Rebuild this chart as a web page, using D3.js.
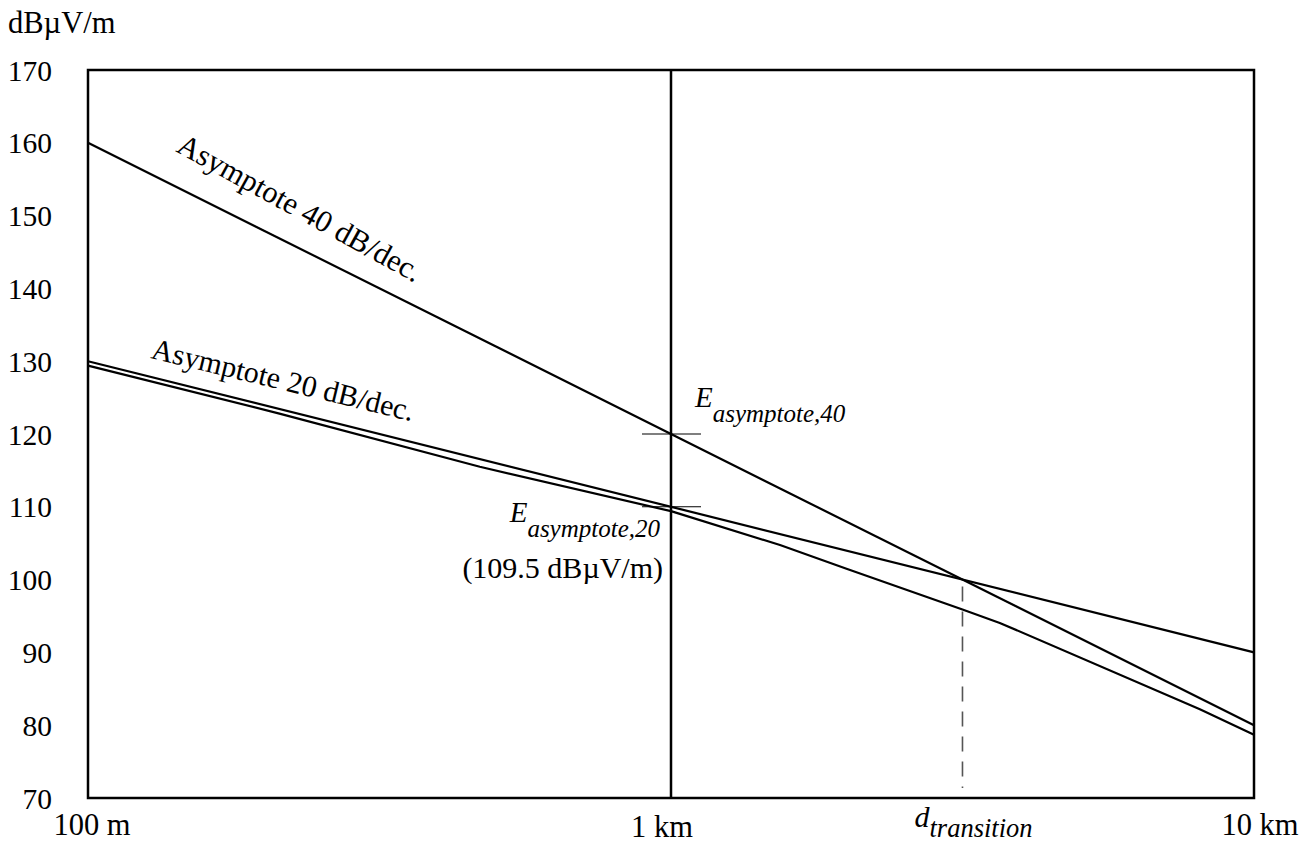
<!DOCTYPE html>
<html>
<head>
<meta charset="utf-8">
<script src="https://cdn.jsdelivr.net/npm/d3@7"></script>
<style>
  body { margin: 0; background: #fff; }
  svg text { font-family: "Liberation Serif", "Times New Roman", Times, Tinos, "DejaVu Serif", serif; fill: #000; }
</style>
</head>
<body>
<div id="chart"></div>
<script>
// axis ticks
const yTicks = [70, 80, 90, 100, 110, 120, 130, 140, 150, 160, 170];
const xTickValues = [100, 1000, 10000];
const xTickLabels = ["100 m", "1 km", "10 km"];

// asymptotes (distance in m, field in dBµV/m)
const asymDist = [100, 10000];
const asym40 = [160, 80];
const asym20 = [130, 90];

// resulting field strength curve
const curveDist = [100, 213, 470, 1000, 1538, 2000, 3162, 3664, 8075, 10000];
const curveValues = [129.4, 122.8, 115.5, 109.4, 104.75, 101.5, 95.9, 94.05, 82.2, 78.7];

// markers at 1 km and transition point
const markerDist = 1000;
const markerValues = [120, 110];
const transitionDist = 3162;
const transitionValue = 100;

const serif = "'Liberation Serif', 'Times New Roman', Times, Tinos, 'DejaVu Serif', serif";

const width = 1301, height = 845;
const margin = { top: 70, right: 47, bottom: 47, left: 88 };

const svg = d3.select("#chart").append("svg")
  .attr("width", width)
  .attr("height", height)
  .attr("font-family", serif);

const x = d3.scaleLog()
  .domain([100, 10000])
  .range([margin.left, width - margin.right]);

const y = d3.scaleLinear()
  .domain([70, 170])
  .range([height - margin.bottom, margin.top]);

// y axis labels
const yAxis = svg.append("g")
  .attr("transform", `translate(${margin.left},0)`)
  .call(d3.axisLeft(y).tickValues(yTicks).tickSize(0).tickPadding(36).tickFormat(d3.format("d")));
yAxis.attr("font-family", serif).attr("font-size", null);
yAxis.select(".domain").remove();
yAxis.selectAll("text")
  .style("font-size", "29.5px")
  .attr("dy", "0.34em");

svg.append("text")
  .attr("x", 8)
  .attr("y", 33)
  .style("font-size", "30.5px")
  .text("dBµV/m");

// x labels
const xLabelPos = [
  { dx: 4, y: 835 },
  { dx: -9, y: 837 },
  { dx: 6, y: 835 }
];
svg.selectAll(".xlab")
  .data(xTickValues)
  .enter()
  .append("text")
  .attr("class", "xlab")
  .attr("x", (d, i) => x(d) + xLabelPos[i].dx)
  .attr("y", (d, i) => xLabelPos[i].y)
  .attr("text-anchor", "middle")
  .style("font-size", "30.5px")
  .text((d, i) => xTickLabels[i]);

// d_transition label
const dt = svg.append("text")
  .attr("x", x(transitionDist) - 48)
  .attr("y", 827)
  .style("font-size", "30px")
  .style("font-style", "italic");
dt.append("tspan").text("d");
dt.append("tspan").attr("dy", 10).style("font-size", "26.5px").text("transition");

// frame
svg.append("rect")
  .attr("x", x(100))
  .attr("y", y(170))
  .attr("width", x(10000) - x(100))
  .attr("height", y(70) - y(170))
  .attr("fill", "none")
  .attr("stroke", "#000")
  .attr("stroke-width", 2.5);

// 1 km vertical
svg.append("line")
  .attr("x1", x(markerDist)).attr("x2", x(markerDist))
  .attr("y1", y(170)).attr("y2", y(70))
  .attr("stroke", "#000")
  .attr("stroke-width", 2.5);

// dashed transition line
svg.append("line")
  .attr("x1", x(transitionDist)).attr("x2", x(transitionDist))
  .attr("y1", y(transitionValue) + 7).attr("y2", y(70) - 10)
  .attr("stroke", "#555")
  .attr("stroke-width", 1.6)
  .attr("stroke-dasharray", "15,10");

// markers at 1 km
svg.selectAll(".marker")
  .data(markerValues)
  .enter()
  .append("line")
  .attr("class", "marker")
  .attr("x1", x(markerDist) - 29)
  .attr("x2", x(markerDist) + 30)
  .attr("y1", d => y(d))
  .attr("y2", d => y(d))
  .attr("stroke", "#000")
  .attr("stroke-width", 1.1);

const line = d3.line()
  .x(d => x(d[0]))
  .y(d => y(d[1]));

const series = [
  d3.zip(asymDist, asym40),
  d3.zip(asymDist, asym20)
];
svg.selectAll(".asym")
  .data(series)
  .enter()
  .append("path")
  .attr("class", "asym")
  .attr("d", line)
  .attr("fill", "none")
  .attr("stroke", "#000")
  .attr("stroke-width", 2.2);

svg.append("path")
  .datum(d3.zip(curveDist, curveValues))
  .attr("d", line)
  .attr("fill", "none")
  .attr("stroke", "#000")
  .attr("stroke-width", 2.2)
  .attr("stroke-linejoin", "round");

// rotated asymptote labels
svg.append("text")
  .attr("transform", "translate(175,151) rotate(28.8)")
  .style("font-size", "30.5px")
  .text("Asymptote 40 dB/dec.");

svg.append("text")
  .attr("transform", "translate(150,358) rotate(13.6)")
  .style("font-size", "30px")
  .text("Asymptote 20 dB/dec.");

// E labels
const e40 = svg.append("text")
  .attr("x", x(markerDist) + 24)
  .attr("y", 407)
  .style("font-size", "29px")
  .style("font-style", "italic");
e40.append("tspan").text("E");
e40.append("tspan").attr("dy", 15).style("font-size", "25px").text("asymptote,40");

const e20 = svg.append("text")
  .attr("x", x(markerDist) - 11)
  .attr("y", 522)
  .attr("text-anchor", "end")
  .style("font-size", "29px")
  .style("font-style", "italic");
e20.append("tspan").text("E");
e20.append("tspan").attr("dy", 15).style("font-size", "25px").text("asymptote,20");

svg.append("text")
  .attr("x", x(markerDist) - 8)
  .attr("y", 578)
  .attr("text-anchor", "end")
  .style("font-size", "30px")
  .text("(109.5 dBµV/m)");
</script>
</body>
</html>
